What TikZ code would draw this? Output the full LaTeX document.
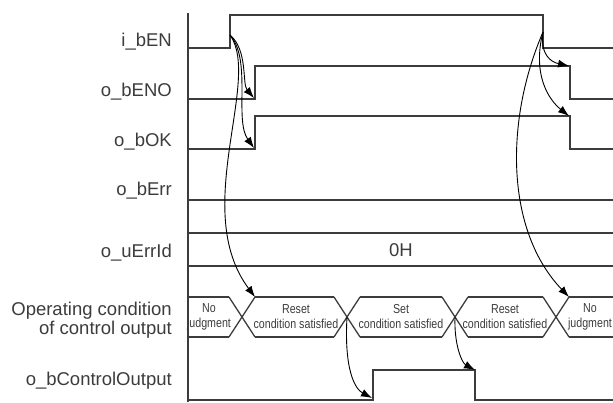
\documentclass[tikz,border=0pt]{standalone}
\usepackage{fontspec}
\setmainfont{Liberation Sans}
\newfontfamily\narrowsf[FakeStretch=0.82]{Liberation Sans}
\usetikzlibrary{arrows.meta}
\definecolor{wavegray}{HTML}{3C3C3C}

\begin{document}
\begin{tikzpicture}[
    x=1pt, y=-1pt,
    wave/.style={line width=1.3pt, wavegray},
    siglabel/.style={anchor=base east, inner sep=0pt, font=\fontsize{18.5}{18.5}\selectfont, text=wavegray},
    statetext/.style={align=center, inner sep=0pt, font=\narrowsf\fontsize{13}{15}\selectfont, text=wavegray},
    cause/.style={-{Latex[length=11pt, width=8pt]}, line width=0.9pt, black},
]
    \useasboundingbox (0,0) rectangle (613,402);

    % signal names
    \node[siglabel] (lEN) at (172,46) {i\_bEN};
    \node[siglabel] (lENO) at (172,96) {o\_bENO};
    \node[siglabel] (lOK) at (172,146) {o\_bOK};
    \node[siglabel] (lErr) at (172,195) {o\_bErr};
    \node[siglabel] (lErrId) at (172,257) {o\_uErrId};
    \node[siglabel, align=right, anchor=east] (lState) at (172,320) {Operating condition\\of control output};
    \node[siglabel] (lCtrl) at (172,385) {o\_bControlOutput};

    % time axis
    \draw[wave] (188,13) -- (188,402);

    % i_bEN
    \draw[wave] (188,48) -- (230,48) -- (230,15) -- (543,15) -- (543,48) -- (613,48);
    \coordinate (enUp) at (230,35);
    \coordinate (enDown) at (543,32);

    % o_bENO
    \draw[wave] (188,99) -- (255,99) -- (255,66) -- (570,66) -- (570,99) -- (613,99);
    \coordinate (enoUp) at (254,98);
    \coordinate (enoDown) at (569,66);

    % o_bOK
    \draw[wave] (188,149) -- (255,149) -- (255,116) -- (570,116) -- (570,149) -- (613,149);
    \coordinate (okUp) at (254,148);
    \coordinate (okDown) at (569,116);

    % o_bErr
    \draw[wave] (188,200) -- (613,200);

    % o_uErrId
    \draw[wave] (188,233) -- (613,233) (188,266) -- (613,266);
    \node[font=\fontsize{18.5}{18.5}\selectfont, text=wavegray] (errId) at (401,250) {0H};

    % operating condition
    \foreach \a/\b in {188/229, 255/334, 360/442, 468/543, 569/613}
        \draw[wave] (\a,297) -- (\b,297) (\a,337) -- (\b,337);
    \foreach \c [count=\i] in {242,347,455,556} {
        \draw[wave] (\c-13,297) -- (\c+13,337) (\c-13,337) -- (\c+13,297);
        \coordinate (x\i) at (\c,317);
    }
    \coordinate (opReset) at (255,297);
    \coordinate (opNo) at (569,297);
    \node[statetext] (st1) at (209,317) {No\\judgment};
    \node[statetext] (st2) at (296,317) {Reset\\condition satisfied};
    \node[statetext] (st3) at (401,317) {Set\\condition satisfied};
    \node[statetext] (st4) at (505,317) {Reset\\condition satisfied};
    \node[statetext] (st5) at (590,317) {No\\judgment};

    % o_bControlOutput
    \draw[wave] (188,400) -- (373,400) -- (373,370) -- (475,370) -- (475,400) -- (613,400);
    \coordinate (ctrlUp) at (372,398);
    \coordinate (ctrlDown) at (475,370);

    % cause and effect
    \draw[cause] (enUp) .. controls +(18,15) and +(-12,-14) .. (enoUp);
    \draw[cause] (enUp) .. controls +(22,25) and +(-20,-28) .. (okUp);
    \draw[cause] (enUp) .. controls +(32,45) and +(-65,-87) .. (opReset);
    \draw[cause] (enDown) .. controls +(-3,23) and +(-18,-4) .. (enoDown);
    \draw[cause] (enDown) .. controls +(-11,43) and +(-20,-16) .. (okDown);
    \draw[cause] (enDown) .. controls +(-38,88) and +(-64,-67) .. (opNo);
    \draw[cause] (x2) .. controls +(-3,53) and +(-17,-9) .. (ctrlUp);
    \draw[cause] (x3) .. controls +(-1,28) and +(-13,-7) .. (ctrlDown);
\end{tikzpicture}
\end{document}
